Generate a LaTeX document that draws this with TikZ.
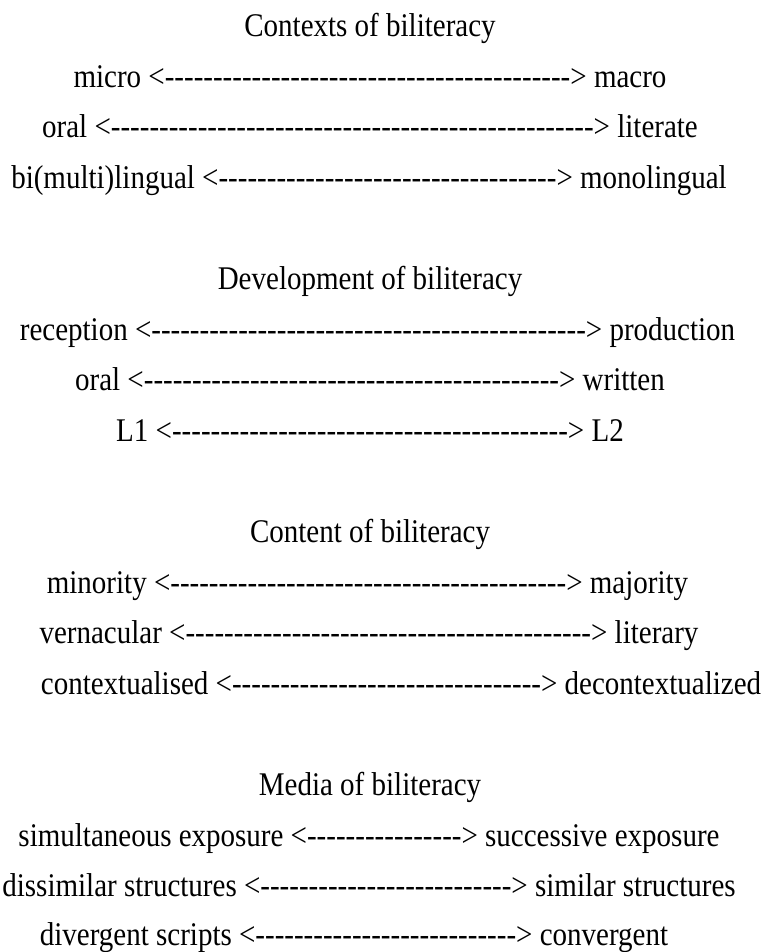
\documentclass[tikz,border=0pt]{standalone}
\usepackage{fontspec}
\usepackage{graphicx}
\newfontfamily\lfont{Liberation Serif}
\newcommand\biarrow[1]{<\foreach\i in {1,...,#1}{-}>}
\tikzset{
  txt/.style={anchor=base, inner sep=0pt, font=\lfont\fontsize{29}{35}\selectfont},
}
\newcommand\st[1]{\scalebox{1}[1.14]{#1}}
\begin{document}
\begin{tikzpicture}[x=1pt,y=1pt]
\useasboundingbox[fill=white] (0,0) rectangle (782,-952);
\def\cx{370}
\node[txt] (t0)  at (\cx,-36.5)  {\st{Contexts of biliteracy}};
\node[txt] (l1)  at (\cx,-87.1)  {\st{micro \biarrow{42} macro}};
\node[txt] (l2)  at (\cx,-137.7) {\st{oral \biarrow{50} literate}};
\node[txt] (l3)  at (369,-188.3) {\st{bi(multi)lingual \biarrow{35} monolingual}};
\node[txt] (t5)  at (\cx,-289.5) {\st{Development of biliteracy}};
\node[txt] (l6)  at (377.5,-340.1) {\st{reception \biarrow{45} production}};
\node[txt] (l7)  at (\cx,-390.7) {\st{oral \biarrow{43} written}};
\node[txt] (l8)  at (\cx,-441.3) {\st{L1 \biarrow{41} L2}};
\node[txt] (t10) at (\cx,-542.5) {\st{Content of biliteracy}};
\node[txt] (l11) at (367.5,-593.1) {\st{minority \biarrow{41} majority}};
\node[txt] (l12) at (369,-643.7) {\st{vernacular \biarrow{42} literary}};
\node[txt] (l13) at (401,-694.3) {\st{contextualised \biarrow{32} decontextualized}};
\node[txt] (t15) at (\cx,-795.5) {\st{Media of biliteracy}};
\node[txt] (l16) at (369,-846.1) {\st{simultaneous exposure \biarrow{16} successive exposure}};
\node[txt] (l17) at (369,-896.7) {\st{dissimilar structures \biarrow{26} similar structures}};
\node[txt] (l18) at (354,-945.5) {\st{divergent scripts \biarrow{27} convergent}};
\end{tikzpicture}
\end{document}
